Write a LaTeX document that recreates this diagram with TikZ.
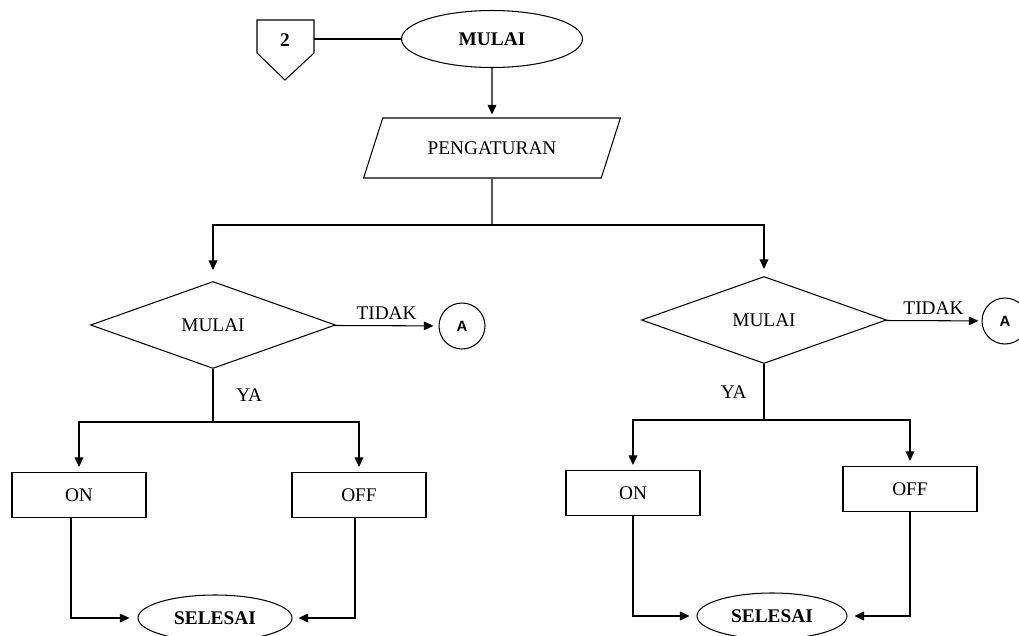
\documentclass[tikz,border=0pt]{standalone}
\usepackage{fontspec}
\setmainfont{Liberation Serif}
\newfontfamily\hurufA{Liberation Sans}
\usetikzlibrary{shapes.geometric,arrows.meta}

\begin{document}
\begin{tikzpicture}[x=0.02cm, y=-0.02cm, line width=0.6pt,
  font=\fontsize{11}{13}\selectfont,
  panah/.style={-{Triangle[length=5.5pt,width=5pt]}},
  terminal/.style={ellipse, draw, inner sep=0pt},
  proses/.style={draw, minimum width=2.68cm, minimum height=0.9cm},
  keputusan/.style={diamond, draw, inner sep=0pt, minimum width=4.9cm, minimum height=1.74cm},
  konektor/.style={circle, draw, inner sep=0pt, minimum size=0.92cm, font=\hurufA\bfseries\fontsize{8.5}{10}\selectfont}]
\useasboundingbox (0,0) rectangle (1019,636);
% atas
\draw (257,20) -- (314,20) -- (314,53) -- (285,80) -- (257,53) -- cycle; % penghubung halaman
\node (dua) at (285,40) {\textbf{2}};
\coordinate (duaE) at (314,39);
\node [terminal, minimum width=3.62cm, minimum height=1.14cm] (mulai) at (492,39) {\textbf{MULAI}};
\node [trapezium, draw, trapezium left angle=49, trapezium right angle=131, trapezium stretches=true,
  minimum width=5.14cm, minimum height=1.2cm, inner sep=0pt] (atur) at (492,148) {PENGATURAN};
\coordinate (cabang) at (492,225);
\draw (duaE) -- (mulai.west);
\draw [panah, shorten >=0.06cm] (mulai) -- (atur);
\draw (atur) -- (cabang);
% kiri
\node [keputusan] (tanyaL) at (213,325) {MULAI};
\node [konektor] (aL) at (462,326) {A};
\coordinate (yaL) at (213,422);
\node [proses] (onL) at (79,495) {ON};
\node [proses] (offL) at (359,495) {OFF};
\node [terminal, minimum width=3.08cm, minimum height=0.92cm] (selL) at (215,618) {\textbf{SELESAI}};
\draw [panah, shorten >=0.22cm] (cabang) -| (tanyaL);
\draw [panah, shorten >=0.1cm] (tanyaL) -- node [above] {TIDAK} (aL);
\draw (tanyaL) -- node [right=0.34cm] {YA} (yaL);
\draw [panah, shorten >=0.1cm] (yaL) -| (onL);
\draw [panah, shorten >=0.1cm] (yaL) -| (offL);
\draw [panah, shorten >=0.16cm] ([xshift=-0.16cm]onL.south) |- (selL);
\draw [panah, shorten >=0.12cm] ([xshift=-0.08cm]offL.south) |- (selL);
% kanan
\node [keputusan] (tanyaR) at (764,320) {MULAI};
\node [konektor] (aR) at (1005,321) {A};
\coordinate (yaR) at (764,420);
\node [proses] (onR) at (633,493) {ON};
\node [proses] (offR) at (910,489) {OFF};
\node [terminal, minimum width=3.0cm, minimum height=0.92cm] (selR) at (772,616) {\textbf{SELESAI}};
\draw [panah, shorten >=0.14cm] (cabang) -| (tanyaR);
\draw [panah, shorten >=0.06cm] (tanyaR) -- node [above] {TIDAK} (aR);
\draw (tanyaR) -- node [left=0.22cm] {YA} (yaR);
\draw [panah, shorten >=0.1cm] (yaR) -| (onR);
\draw [panah, shorten >=0.1cm] (yaR) -| (offR);
\draw [panah, shorten >=0.14cm] (onR) |- (selR);
\draw [panah, shorten >=0.14cm] (offR) |- (selR);
\end{tikzpicture}
\end{document}
